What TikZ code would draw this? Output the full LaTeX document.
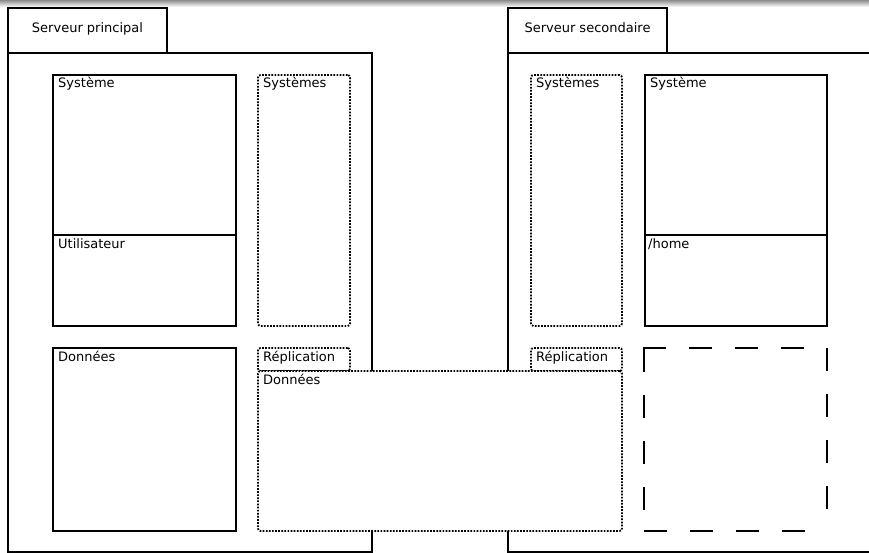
\documentclass[tikz,border=0pt]{standalone}
\usepackage{fontspec}
\setmainfont{DejaVu Sans}
\begin{document}
\begin{tikzpicture}[x=1pt,y=-1pt,
  solidbox/.style={draw, line width=1.8pt, inner sep=0pt, outer sep=0pt, anchor=north west, fill=white},
  dotbox/.style={draw, line width=1.8pt, dash pattern=on 1.7pt off 1.4pt, rounded corners=2.5pt, inner sep=0pt, outer sep=0pt, anchor=north west, fill=white},
  lbl/.style={anchor=base west, inner sep=0pt, font=\fontsize{13}{15}\selectfont},
  tablbl/.style={anchor=base, inner sep=0pt, font=\fontsize{13}{15}\selectfont},
  dashline/.style={line width=2pt, dash pattern=on 23pt off 23pt},
]
\useasboundingbox (0,0) rectangle (869,553);
\clip (0,0) rectangle (869,553);
\shade[top color=black!45, bottom color=white] (0,0) rectangle (869,7);
% left server
\node[solidbox, minimum width=364pt, minimum height=499.3pt] (outL) at (8,53) {};
\node[solidbox, minimum width=159pt, minimum height=45pt] (tabL) at (8,8) {};
\node[tablbl] (tabLt) at (87.5,33) {Serveur principal};
\node[solidbox, minimum width=183pt, minimum height=160pt] (sysL) at (53,75) {};
\node[solidbox, minimum width=183pt, minimum height=91pt] (usrL) at (53,235) {};
\node[lbl] (sysLt) at (58,88) {Système};
\node[lbl] (usrLt) at (58,248) {Utilisateur};
\node[dotbox, minimum width=92pt, minimum height=251pt] (ssL) at (258,75) {};
\node[lbl] (ssLt) at (263,88) {Systèmes};
\node[solidbox, minimum width=183pt, minimum height=183pt] (donL) at (53,348) {};
\node[lbl] (donLt) at (58,361) {Données};
% right server
\node[solidbox, minimum width=380pt, minimum height=499.3pt] (outR) at (508,53) {};
\node[solidbox, minimum width=159pt, minimum height=45pt] (tabR) at (508,8) {};
\node[tablbl] (tabRt) at (587.5,33) {Serveur secondaire};
\node[dotbox, minimum width=91pt, minimum height=251pt] (ssR) at (531,75) {};
\node[lbl] (ssRt) at (536,88) {Systèmes};
\node[solidbox, minimum width=182pt, minimum height=160pt] (sysR) at (645,75) {};
\node[solidbox, minimum width=182pt, minimum height=91pt] (homeR) at (645,235) {};
\node[lbl] (sysRt) at (650,88) {Système};
\node[lbl] (homeRt) at (648,248) {/home};
% replication
\node[dotbox, minimum width=92pt, minimum height=23pt] (repL) at (258,348) {};
\node[lbl] (repLt) at (263,361) {Réplication};
\node[dotbox, minimum width=91pt, minimum height=23pt] (repR) at (531,348) {};
\node[lbl] (repRt) at (536,361) {Réplication};
\node[dotbox, minimum width=364pt, minimum height=160pt] (donS) at (258,371) {};
\node[lbl] (donSt) at (263,384) {Données};
% dashed box
\coordinate (dnw) at (644,348);
\coordinate (dne) at (827,348);
\coordinate (dsw) at (644,531);
\coordinate (dse) at (827,531);
\draw[dashline] ([xshift=-1pt]dnw) -- (dne);
\draw[dashline] ([yshift=-1pt]dnw) -- (dsw);
\draw[dashline] (dne) -- (dse);
\draw[dashline] (dsw) -- (dse);
\end{tikzpicture}
\end{document}
